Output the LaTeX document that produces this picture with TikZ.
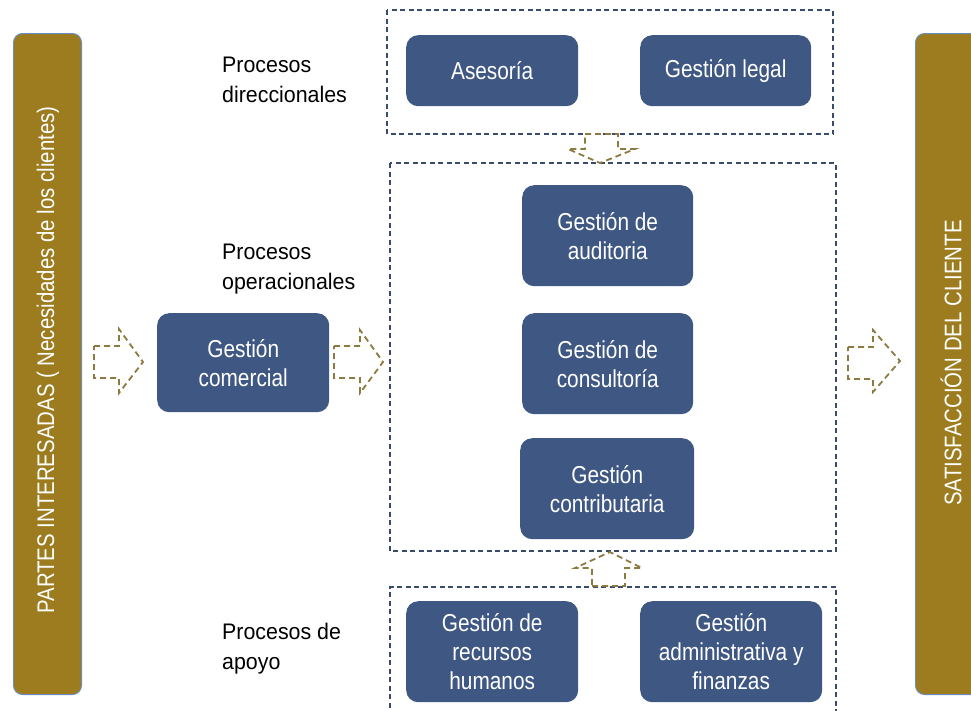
\documentclass[tikz,border=0pt]{standalone}
\usepackage{fontspec}
\setmainfont{Liberation Sans}
\newfontfamily\boxfont{Liberation Sans}[FakeStretch=0.85]
\newfontfamily\labelfont{Liberation Sans}[FakeStretch=0.95]
\definecolor{procblue}{HTML}{3F5783}
\definecolor{bargold}{HTML}{9C7C1F}
\definecolor{baredge}{HTML}{6C8EBF}
\definecolor{boxline}{HTML}{3A4A6A}
\definecolor{arrowgold}{HTML}{8C7A40}
\tikzset{
  proc/.style={fill=procblue, rounded corners=12pt, text=white, align=center,
    font=\boxfont\fontsize{24.5}{29}\selectfont, inner sep=0pt, anchor=north west},
  sidebar/.style={fill=bargold, draw=baredge, line width=1pt, rounded corners=9pt,
    anchor=north west, inner sep=0pt},
  sidetext/.style={text=white, font=\boxfont\fontsize{24}{28}\selectfont, rotate=90},
  grouplabel/.style={align=left, anchor=north west, inner sep=0pt,
    font=\labelfont\fontsize{22.5}{30}\selectfont},
  groupbox/.style={draw=boxline, line width=1.1pt, dash pattern=on 5pt off 3.5pt},
  flow/.style={draw=arrowgold, line width=1.8pt, dash pattern=on 6pt off 4pt}
}
\begin{document}
\begin{tikzpicture}[x=1pt,y=-1pt]
\useasboundingbox (0,0) rectangle (971,710);
\clip (0,0) rectangle (971,710);

% side bars
\node[sidebar, minimum width=68pt, minimum height=661pt] (left) at (13,33) {};
\node[sidetext] (lefttext) at (48,360) {PARTES INTERESADAS ( Necesidades de los clientes)};
\node[sidebar, minimum width=70pt, minimum height=661pt] (right) at (915,33) {};
\node[sidetext] (righttext) at (951,363) {SATISFACCIÓN DEL CLIENTE};

% group frames
\draw[groupbox] (387,10) rectangle (833,134);
\draw[groupbox] (390,163) rectangle (836,551);
\draw[groupbox] (390,716) -- (390,587) -- (836,587) -- (836,716);

% group labels
\node[grouplabel] (ldir) at (222,57) {Procesos\\direccionales};
\node[grouplabel] (lop) at (222,244) {Procesos\\operacionales};
\node[grouplabel] (lapo) at (222,623) {Procesos de\\apoyo};

% process boxes
\node[proc, minimum width=172pt, minimum height=71pt] (ases) at (406,35) {Asesoría};
\node[proc, minimum width=171pt, minimum height=71pt] (legal) at (640,35) {Gestión legal};
\node[proc, minimum width=171pt, minimum height=101pt] (audit) at (522,185) {Gestión de\\auditoria};
\node[proc, minimum width=171pt, minimum height=101pt] (consul) at (522,313) {Gestión de\\consultoría};
\node[proc, minimum width=174pt, minimum height=101pt] (contrib) at (520,438) {Gestión\\contributaria};
\node[proc, minimum width=172pt, minimum height=99pt] (comer) at (157,313) {Gestión\\comercial};
\node[proc, minimum width=172pt, minimum height=101pt] (rrhh) at (406,601) {Gestión de\\recursos\\humanos};
\node[proc, minimum width=182pt, minimum height=101pt] (admin) at (640,601) {Gestión\\administrativa y\\finanzas};

% hollow flow arrows
\draw[flow] (94,346) -- (119,346) -- (119,329) -- (143,362) -- (119,393) -- (119,378) -- (94,378) -- cycle;
\draw[flow] (334,346) -- (360,346) -- (360,330) -- (383,362) -- (360,393) -- (360,378) -- (334,378) -- cycle;
\draw[flow] (848,347) -- (873,347) -- (873,330) -- (900,361) -- (873,392) -- (873,379) -- (848,379) -- cycle;
\draw[flow] (585,134) -- (618,134) -- (618,149) -- (635,149) -- (600,163) -- (568,149) -- (585,149) -- cycle;
\draw[flow] (592,586) -- (625,586) -- (625,568) -- (642,568) -- (610,552) -- (575,568) -- (592,568) -- cycle;
\end{tikzpicture}
\end{document}
